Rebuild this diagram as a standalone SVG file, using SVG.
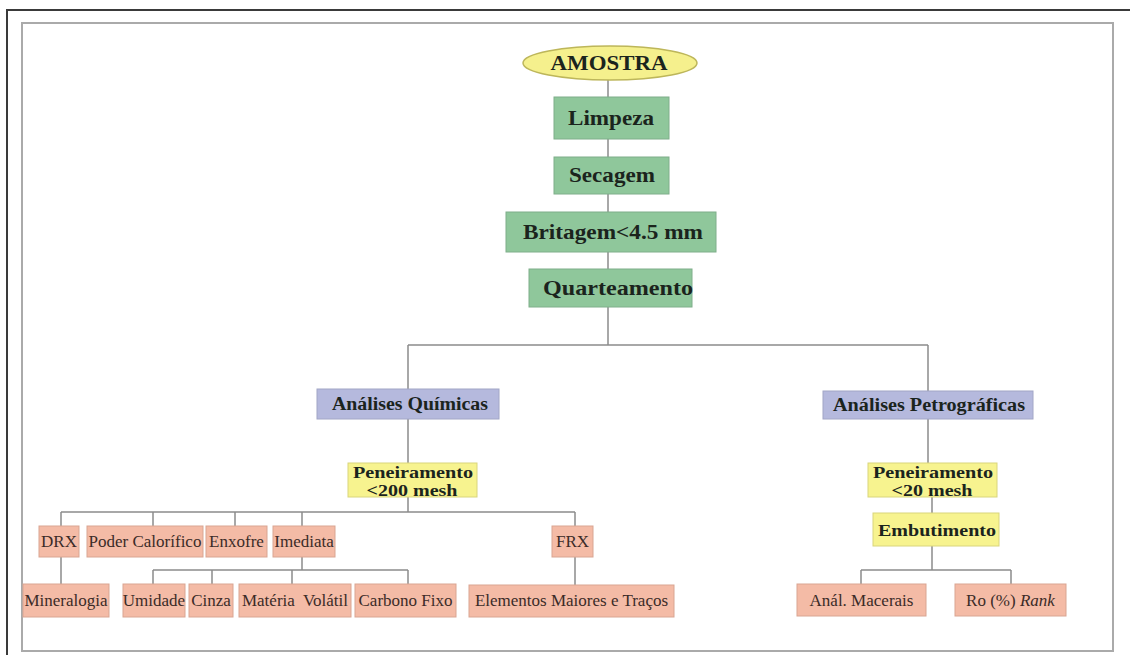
<svg xmlns="http://www.w3.org/2000/svg" width="1130" height="655" viewBox="0 0 1130 655">
<style>
.bold{font-family:"Liberation Serif","Times New Roman",serif;font-weight:bold;fill:#1b241d;text-anchor:middle}
.reg{font-family:"Liberation Serif","Times New Roman",serif;fill:#3b2b28;text-anchor:middle;font-size:17px}
.green{fill:#8fc79b;stroke:#7fae8a;stroke-width:1}
.blue{fill:#b5b9dd;stroke:#a2a6c6;stroke-width:1}
.yellow{fill:#f7f38f;stroke:#d9d57c;stroke-width:1}
.pink{fill:#f4bba6;stroke:#d9a592;stroke-width:1}
.conn{fill:none;stroke:#8c8c8c;stroke-width:1.5}
</style>
<rect x="0" y="0" width="1130" height="655" fill="#ffffff"/>
<rect x="7" y="10" width="1135" height="660" fill="none" stroke="#3a3a3a" stroke-width="2"/>
<rect x="22" y="23" width="1091" height="628" fill="none" stroke="#aaaaaa" stroke-width="2"/>
<g id="connectors">
<path class="conn" d="M608 80V97M608 139V157M608 194V212M608 252V269M608 307V345M408 345H928M408 345V389M928 345V391"/>
<path class="conn" d="M408 419V463M408 497V512M61 512H575M61 512V526M153 512V526M235 512V526M302 512V526M575 512V526"/>
<path class="conn" d="M61 557V584M575 557V585M302 557V570M153 570H408M153 570V584M212 570V584M292 570V584M408 570V584"/>
<path class="conn" d="M928 419V463M932 497V513M932 546V570M861 570H1011M861 570V584M1011 570V584"/>
</g>
<g id="amostra"><ellipse cx="610" cy="63" rx="87" ry="17" fill="#f5f08d" stroke="#bdb65a" stroke-width="1.5"/><text class="bold" x="609" y="70" font-size="21" textLength="117" lengthAdjust="spacingAndGlyphs">AMOSTRA</text></g>
<g id="limpeza"><rect class="green" x="554" y="97" width="115" height="42"/><text class="bold" x="611" y="125" font-size="21" textLength="86" lengthAdjust="spacingAndGlyphs">Limpeza</text></g>
<g id="secagem"><rect class="green" x="554" y="157" width="115" height="37"/><text class="bold" x="612" y="182" font-size="21" textLength="86" lengthAdjust="spacingAndGlyphs">Secagem</text></g>
<g id="britagem"><rect class="green" x="506" y="212" width="210" height="40"/><text class="bold" x="613" y="239" font-size="21" textLength="180" lengthAdjust="spacingAndGlyphs">Britagem&lt;4.5 mm</text></g>
<g id="quarteamento"><rect class="green" x="529" y="269" width="163" height="38"/><text class="bold" x="618" y="295" font-size="21" textLength="150" lengthAdjust="spacingAndGlyphs">Quarteamento</text></g>
<g id="quimicas"><rect class="blue" x="317" y="389" width="182" height="30"/><text class="bold" x="410" y="410" font-size="18.5" textLength="156" lengthAdjust="spacingAndGlyphs">Análises Químicas</text></g>
<g id="petrograficas"><rect class="blue" x="823" y="391" width="210" height="28"/><text class="bold" x="929" y="411" font-size="18.5" textLength="192" lengthAdjust="spacingAndGlyphs">Análises Petrográficas</text></g>
<g id="pen200"><rect class="yellow" x="348" y="463" width="129" height="34"/><text class="bold" x="413" y="478" font-size="17" textLength="120" lengthAdjust="spacingAndGlyphs">Peneiramento</text><text class="bold" x="412" y="496" font-size="17" textLength="91" lengthAdjust="spacingAndGlyphs">&lt;200 mesh</text></g>
<g id="pen20"><rect class="yellow" x="868" y="463" width="129" height="34"/><text class="bold" x="933" y="478" font-size="17" textLength="120" lengthAdjust="spacingAndGlyphs">Peneiramento</text><text class="bold" x="932" y="496" font-size="17" textLength="81" lengthAdjust="spacingAndGlyphs">&lt;20 mesh</text></g>
<g id="embutimento"><rect class="yellow" x="873" y="513" width="126" height="33"/><text class="bold" x="937" y="536" font-size="17" textLength="118" lengthAdjust="spacingAndGlyphs">Embutimento</text></g>
<g id="drx"><rect class="pink" x="39" y="526" width="40" height="31"/><text class="reg" x="59" y="547">DRX</text></g>
<g id="poder"><rect class="pink" x="87" y="526" width="116" height="31"/><text class="reg" x="145" y="547">Poder Calorífico</text></g>
<g id="enxofre"><rect class="pink" x="206" y="526" width="61" height="31"/><text class="reg" x="236.5" y="547">Enxofre</text></g>
<g id="imediata"><rect class="pink" x="273" y="526" width="62" height="31"/><text class="reg" x="304" y="547">Imediata</text></g>
<g id="frx"><rect class="pink" x="552" y="526" width="41" height="31"/><text class="reg" x="572.5" y="547">FRX</text></g>
<g id="mineralogia"><rect class="pink" x="23" y="584" width="86" height="33"/><text class="reg" x="66" y="606">Mineralogia</text></g>
<g id="umidade"><rect class="pink" x="123" y="584" width="62" height="33"/><text class="reg" x="154" y="606">Umidade</text></g>
<g id="cinza"><rect class="pink" x="189" y="584" width="44" height="33"/><text class="reg" x="211" y="606">Cinza</text></g>
<g id="materia"><rect class="pink" x="239" y="584" width="112" height="33"/><text class="reg" x="295" y="606" xml:space="preserve">Matéria  Volátil</text></g>
<g id="carbono"><rect class="pink" x="355" y="584" width="101" height="33"/><text class="reg" x="405.5" y="606">Carbono Fixo</text></g>
<g id="elementos"><rect class="pink" x="469" y="585" width="205" height="32"/><text class="reg" x="571.5" y="606">Elementos Maiores e Traços</text></g>
<g id="macerais"><rect class="pink" x="797" y="584" width="129" height="32"/><text class="reg" x="861.5" y="606">Anál. Macerais</text></g>
<g id="ro"><rect class="pink" x="955" y="584" width="111" height="32"/><text class="reg" x="1010.5" y="606">Ro (%) <tspan font-style="italic">Rank</tspan></text></g>
</svg>
